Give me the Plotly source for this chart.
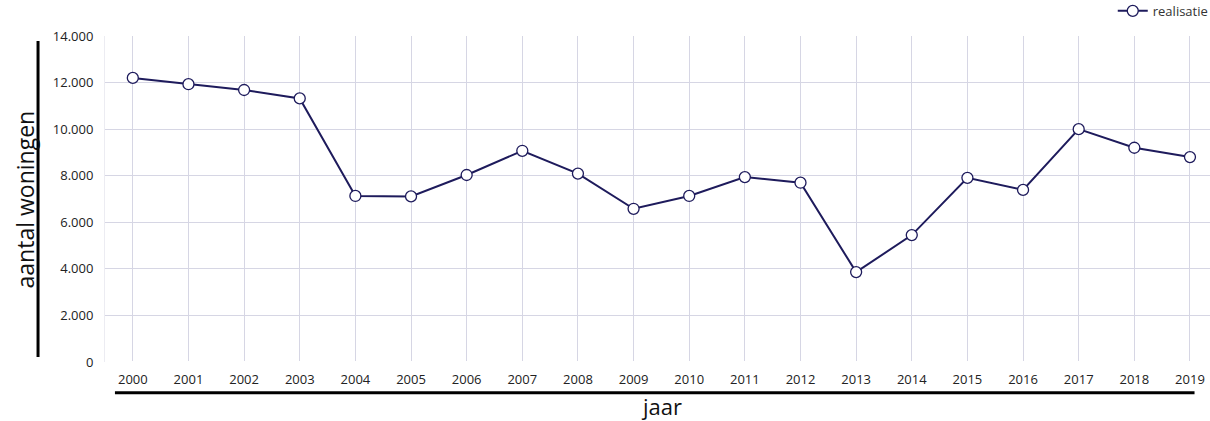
import plotly.graph_objects as go

years = [str(y) for y in range(2000, 2020)]
realisatie = [12200, 11930, 11680, 11320, 7130, 7110, 8030, 9070, 8090, 6580,
              7130, 7940, 7700, 3860, 5450, 7910, 7390, 10000, 9200, 8800]
y_ticks = [0, 2000, 4000, 6000, 8000, 10000, 12000, 14000]

navy = "#1e1b5c"
grid = "#d6d6e4"
font = "Open Sans"

fig = go.Figure()
fig.add_trace(go.Scatter(
    x=years, y=realisatie, name="realisatie", mode="lines+markers",
    line=dict(color=navy, width=2),
    marker=dict(size=11, color="white", line=dict(color=navy, width=1.3)),
))

fig.update_layout(
    width=1210, height=421,
    margin=dict(l=105, r=0, t=36, b=59, autoexpand=False),
    paper_bgcolor="white", plot_bgcolor="white",
    separators=",.",
    font=dict(family=font, size=13, color="#222222"),
    showlegend=True,
    legend=dict(x=0.912, y=1.077, xanchor="left", yanchor="middle",
                orientation="h", font=dict(size=13, color="#333333"),
                bgcolor="rgba(0,0,0,0)"),
    xaxis=dict(type="category", range=[-0.5, 19.36], showgrid=True,
               gridcolor=grid, gridwidth=1, tickfont=dict(size=13),
               ticks="", showline=False, zeroline=False,
               ticklabelstandoff=8),
    yaxis=dict(range=[0, 14000], tickvals=y_ticks, tickformat=",d",
               showgrid=True, gridcolor=grid, gridwidth=1,
               zeroline=True, zerolinecolor="white", zerolinewidth=2,
               showline=True, linecolor="#ececf2", linewidth=1,
               tickfont=dict(size=13), ticks="", ticklabelstandoff=8),
)

# axis titles
fig.add_annotation(text="aantal woningen", xref="paper", yref="paper",
                   x=-0.072, y=0.5, textangle=-90, showarrow=False,
                   xanchor="center", yanchor="middle",
                   font=dict(family=font, size=23, color="#111111"))
fig.add_annotation(text="jaar", xref="paper", yref="paper",
                   x=0.504, y=-0.135, showarrow=False,
                   xanchor="center", yanchor="middle",
                   font=dict(family=font, size=22, color="#111111"))

# decorative title bars
fig.add_shape(type="line", xref="paper", yref="paper",
              x0=-0.0606, x1=-0.0606, y0=0.985, y1=0.015,
              line=dict(color="black", width=3))
fig.add_shape(type="line", xref="paper", yref="paper",
              x0=0.009, x1=0.986, y0=-0.094, y1=-0.094,
              line=dict(color="black", width=3))

fig.write_html("out.html", config={"displayModeBar": False},
               post_script="document.body.style.margin='0';document.body.style.overflow='hidden';")
